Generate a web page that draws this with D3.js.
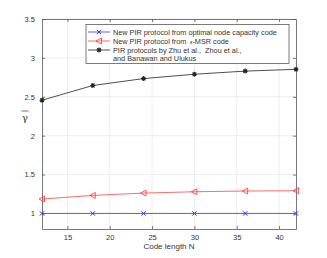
<!DOCTYPE html>
<html>
<head>
<meta charset="utf-8">
<script src="https://d3js.org/d3.v7.min.js"></script>
<style>
body { margin: 0; background: #fff; }
text { font-family: "Liberation Sans", Arial, sans-serif; white-space: pre; }
</style>
</head>
<body>
<svg id="chart" width="327" height="258"></svg>
<script>
// 码长 N
var codeLength = [12, 18, 24, 30, 36, 42];
// 三条曲线
var optimalNode = [1, 1, 1, 1, 1, 1];
var epsMSR = [1.185, 1.232, 1.262, 1.279, 1.288, 1.292];
var zhuZhou = [2.456, 2.645, 2.734, 2.790, 2.830, 2.853];
var xTicks = [15, 20, 25, 30, 35, 40];
var yTicks = [1, 1.5, 2, 2.5, 3, 3.5];

var svg = d3.select('#chart');
var mLeft = 42, mRight = 296, mTop = 19, mBottom = 229;

var x = d3.scaleLinear().domain([12, 42]).range([mLeft, mRight]);
var y = d3.scaleLinear().domain([0.8, 3.5]).range([mBottom, mTop]);

var axisColor = '#555';

// 网格
svg.append('g').selectAll('line').data(xTicks).enter().append('line')
    .attr('x1', function(d) { return x(d); }).attr('x2', function(d) { return x(d); })
    .attr('y1', mTop).attr('y2', mBottom)
    .attr('stroke', '#e8e8e8').attr('stroke-width', 0.8);
svg.append('g').selectAll('line').data(yTicks).enter().append('line')
    .attr('y1', function(d) { return y(d); }).attr('y2', function(d) { return y(d); })
    .attr('x1', mLeft).attr('x2', mRight)
    .attr('stroke', '#e8e8e8').attr('stroke-width', 0.8);

// 坐标轴
var xAxis = d3.axisBottom(x).tickValues(xTicks).tickSizeInner(-3).tickSizeOuter(0).tickPadding(6);
var yAxis = d3.axisLeft(y).tickValues(yTicks).tickSizeInner(-3).tickSizeOuter(0).tickPadding(7)
    .tickFormat(function(d) { return String(d); });
var gx = svg.append('g').attr('transform', 'translate(0,' + mBottom + ')').call(xAxis);
var gy = svg.append('g').attr('transform', 'translate(' + mLeft + ',0)').call(yAxis);
var gxt = svg.append('g').attr('transform', 'translate(0,' + mTop + ')')
    .call(d3.axisTop(x).tickValues(xTicks).tickSizeInner(-3).tickSizeOuter(0).tickFormat(''));
var gyr = svg.append('g').attr('transform', 'translate(' + mRight + ',0)')
    .call(d3.axisRight(y).tickValues(yTicks).tickSizeInner(-3).tickSizeOuter(0).tickFormat(''));
[gx, gy, gxt, gyr].forEach(function(g) {
    g.select('.domain').attr('stroke', axisColor).attr('stroke-width', 0.8);
    g.selectAll('.tick line').attr('stroke', axisColor).attr('stroke-width', 0.8);
    g.selectAll('.tick text').attr('fill', '#333').style('font-size', '7.5px');
});

// 轴标题
svg.append('text').attr('x', (mLeft + mRight) / 2).attr('y', 249)
    .attr('text-anchor', 'middle').attr('fill', '#333').style('font-size', '8px')
    .text('Code length N');
svg.append('text').attr('x', 25).attr('y', 121)
    .attr('text-anchor', 'middle').attr('fill', '#333').style('font-size', '10px')
    .style('font-family', 'DejaVu Serif').text('γ');
svg.append('line').attr('x1', 21.5).attr('x2', 28.5).attr('y1', 111).attr('y2', 111)
    .attr('stroke', '#333').attr('stroke-width', 0.7);

var line = d3.line()
    .x(function(d, i) { return x(codeLength[i]); })
    .y(function(d) { return y(d); });

var series = [
    { data: optimalNode, color: '#3333ff', marker: 'x' },
    { data: epsMSR, color: '#ff4444', marker: 'tri' },
    { data: zhuZhou, color: '#222', marker: 'star' }
];

function drawMarker(g, type, color, cx, cy) {
    if (type === 'x') {
        g.append('path').attr('d', 'M' + (cx - 2.2) + ',' + (cy - 2.2) + 'L' + (cx + 2.2) + ',' + (cy + 2.2) +
            'M' + (cx - 2.2) + ',' + (cy + 2.2) + 'L' + (cx + 2.2) + ',' + (cy - 2.2))
            .attr('stroke', color).attr('stroke-width', 1).attr('fill', 'none');
    } else if (type === 'tri') {
        g.append('path').attr('d', 'M' + (cx - 3) + ',' + cy + 'L' + (cx + 2.5) + ',' + (cy - 3) +
            'L' + (cx + 2.5) + ',' + (cy + 3) + 'Z')
            .attr('stroke', color).attr('stroke-width', 0.9).attr('fill', 'none');
    } else {
        var r = 2.5;
        g.append('path').attr('d', 'M' + (cx - r) + ',' + cy + 'L' + (cx + r) + ',' + cy +
            'M' + cx + ',' + (cy - r) + 'L' + cx + ',' + (cy + r) +
            'M' + (cx - 1.8) + ',' + (cy - 1.8) + 'L' + (cx + 1.8) + ',' + (cy + 1.8) +
            'M' + (cx - 1.8) + ',' + (cy + 1.8) + 'L' + (cx + 1.8) + ',' + (cy - 1.8))
            .attr('stroke', color).attr('stroke-width', 1.1).attr('fill', 'none');
    }
}

series.forEach(function(s) {
    var g = svg.append('g');
    g.append('path').attr('d', line(s.data))
        .attr('stroke', s.color).attr('stroke-width', 0.8).attr('fill', 'none');
    s.data.forEach(function(d, i) {
        drawMarker(g, s.marker, s.color, x(codeLength[i]), y(d));
    });
});

// 图例
var legend = svg.append('g');
legend.append('rect').attr('x', 86).attr('y', 24.5).attr('width', 203).attr('height', 39)
    .attr('fill', '#fff').attr('stroke', '#444').attr('stroke-width', 0.7);
var legendRows = [
    { y: 32, color: '#3333ff', marker: 'x' },
    { y: 41, color: '#ff4444', marker: 'tri' },
    { y: 50, color: '#222', marker: 'star' }
];
legendRows.forEach(function(r) {
    legend.append('line').attr('x1', 88).attr('x2', 110).attr('y1', r.y).attr('y2', r.y)
        .attr('stroke', r.color).attr('stroke-width', 0.8);
    drawMarker(legend, r.marker, r.color, 99, r.y);
});
var ls = '7.3px';
legend.append('text').attr('x', 113).attr('y', 34.5).attr('fill', '#333').style('font-size', ls)
    .text('New PIR protocol from optimal node capacity code');
legend.append('text').attr('x', 113).attr('y', 43.5).attr('fill', '#333').style('font-size', ls)
    .text('New PIR protocol from');
var t2 = legend.append('text').attr('x', 190).attr('y', 43.5).attr('fill', '#333').style('font-size', ls);
t2.append('tspan').style('font-size', '5.5px').style('font-style', 'italic').text('ε');
t2.append('tspan').text('-MSR code');
legend.append('text').attr('x', 113).attr('y', 52.5).attr('fill', '#333').style('font-size', ls)
    .text('PIR protocols by Zhu et al.,  Zhou et al.,');
legend.append('text').attr('x', 113).attr('y', 61).attr('fill', '#333').style('font-size', ls)
    .text('and Banawan and Ulukus');
</script>
</body>
</html>
